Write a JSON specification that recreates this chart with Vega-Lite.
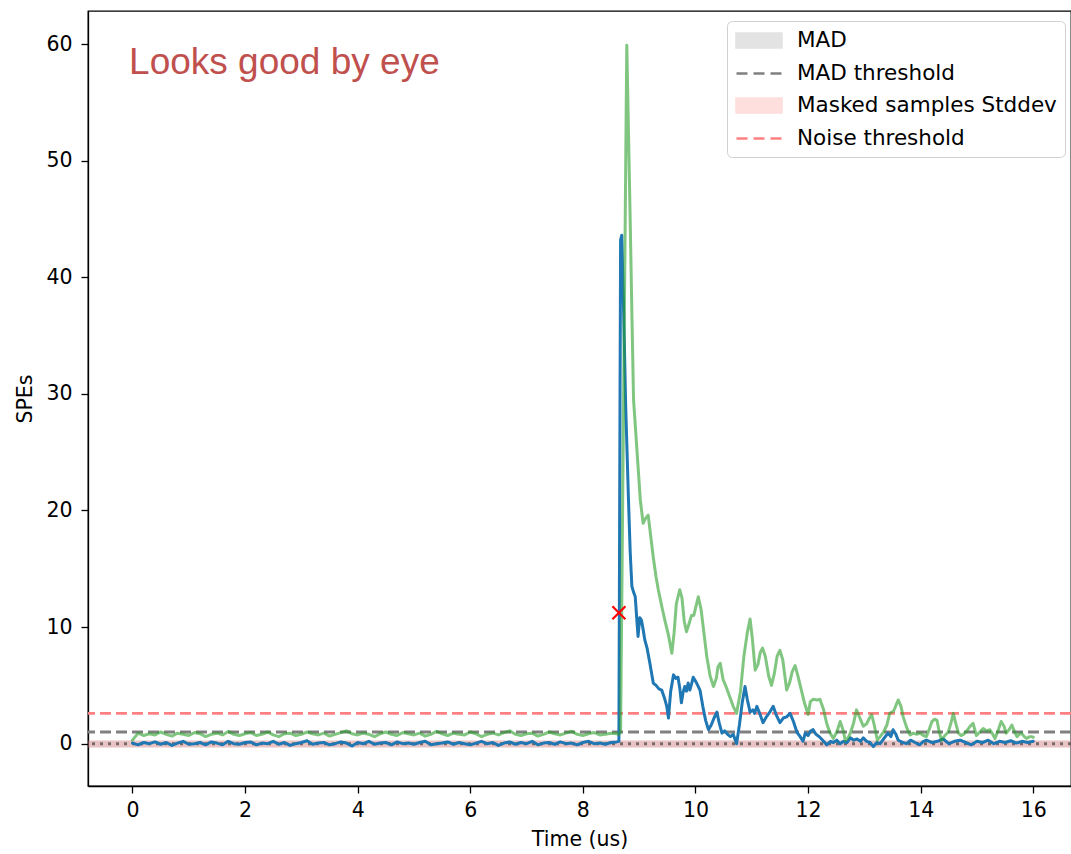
{
  "$schema": "https://vega.github.io/schema/vega-lite/v6.json",
  "autosize": "none",
  "width": 983,
  "height": 775,
  "padding": {"left": 88, "top": 11, "right": 0, "bottom": 68},
  "background": "white",
  "config": {
    "view": {"stroke": "black", "strokeWidth": 1.3},
    "font": "DejaVu Sans",
    "axis": {
      "grid": false,
      "domainColor": "black",
      "domainWidth": 1.3,
      "tickColor": "black",
      "tickWidth": 1.3,
      "tickSize": 7,
      "labelFont": "DejaVu Sans",
      "labelFontSize": 20.5,
      "labelColor": "#000",
      "titleFont": "DejaVu Sans",
      "titleFontSize": 20.5,
      "titleFontWeight": "normal",
      "titleColor": "#000"
    }
  },
  "datasets": {
    "blue": [
      {"t":0.0,"v":0.05},{"t":0.1,"v":-0.1},{"t":0.2,"v":0.1},{"t":0.3,"v":0.0},{"t":0.4,"v":0.15},{"t":0.5,"v":-0.05},{"t":0.6,"v":0.1},{"t":0.7,"v":-0.15},{"t":0.8,"v":0.05},{"t":0.9,"v":0.2},
      {"t":1.0,"v":-0.05},{"t":1.1,"v":0.0},{"t":1.2,"v":0.1},{"t":1.3,"v":-0.1},{"t":1.4,"v":0.15},{"t":1.5,"v":0.05},{"t":1.6,"v":-0.1},{"t":1.7,"v":0.2},{"t":1.8,"v":0.0},{"t":1.9,"v":-0.05},
      {"t":2.0,"v":0.1},{"t":2.1,"v":0.15},{"t":2.2,"v":-0.1},{"t":2.3,"v":0.05},{"t":2.4,"v":0.0},{"t":2.5,"v":0.2},{"t":2.6,"v":-0.05},{"t":2.7,"v":0.1},{"t":2.8,"v":-0.15},{"t":2.9,"v":0.0},
      {"t":3.0,"v":0.1},{"t":3.1,"v":0.25},{"t":3.2,"v":-0.05},{"t":3.3,"v":0.05},{"t":3.4,"v":0.1},{"t":3.5,"v":-0.1},{"t":3.6,"v":0.0},{"t":3.7,"v":0.15},{"t":3.8,"v":0.05},{"t":3.9,"v":-0.2},
      {"t":4.0,"v":0.1},{"t":4.1,"v":0.0},{"t":4.2,"v":0.2},{"t":4.3,"v":-0.05},{"t":4.4,"v":0.05},{"t":4.5,"v":0.1},{"t":4.6,"v":-0.1},{"t":4.7,"v":0.15},{"t":4.8,"v":0.0},{"t":4.9,"v":0.05},
      {"t":5.0,"v":-0.05},{"t":5.1,"v":0.1},{"t":5.2,"v":0.2},{"t":5.3,"v":-0.1},{"t":5.4,"v":0.0},{"t":5.5,"v":0.05},{"t":5.6,"v":0.15},{"t":5.7,"v":-0.05},{"t":5.8,"v":0.1},{"t":5.9,"v":0.0},
      {"t":6.0,"v":-0.1},{"t":6.1,"v":0.05},{"t":6.2,"v":0.2},{"t":6.3,"v":0.0},{"t":6.4,"v":0.1},{"t":6.5,"v":-0.15},{"t":6.6,"v":0.05},{"t":6.7,"v":0.15},{"t":6.8,"v":-0.05},{"t":6.9,"v":0.1},
      {"t":7.0,"v":0.0},{"t":7.1,"v":0.2},{"t":7.2,"v":-0.1},{"t":7.3,"v":0.05},{"t":7.4,"v":0.1},{"t":7.5,"v":-0.05},{"t":7.6,"v":0.15},{"t":7.7,"v":0.0},{"t":7.8,"v":0.05},{"t":7.9,"v":-0.1},
      {"t":8.0,"v":0.1},{"t":8.1,"v":0.2},{"t":8.2,"v":0.0},{"t":8.3,"v":0.05},{"t":8.4,"v":-0.05},{"t":8.5,"v":0.1},{"t":8.6,"v":0.15},
      {"t":8.64,"v":0.2},{"t":8.66,"v":30},{"t":8.67,"v":43.2},{"t":8.69,"v":43.6},{"t":8.72,"v":38},{"t":8.76,"v":29},{"t":8.81,"v":20.9},{"t":8.84,"v":16.5},{"t":8.87,"v":13.5},{"t":8.9,"v":13.0},
      {"t":8.93,"v":12.6},{"t":8.96,"v":10.5},{"t":8.98,"v":9.2},{"t":9.01,"v":10.8},{"t":9.04,"v":10.6},{"t":9.07,"v":9.8},{"t":9.1,"v":8.9},{"t":9.14,"v":8.2},{"t":9.19,"v":6.9},{"t":9.25,"v":5.2},
      {"t":9.3,"v":5.0},{"t":9.35,"v":4.7},{"t":9.4,"v":4.6},{"t":9.45,"v":3.9},{"t":9.49,"v":3.2},{"t":9.52,"v":2.2},{"t":9.56,"v":4.5},{"t":9.61,"v":5.9},{"t":9.65,"v":5.6},{"t":9.69,"v":5.7},
      {"t":9.72,"v":4.8},{"t":9.75,"v":3.5},{"t":9.78,"v":4.4},{"t":9.81,"v":4.9},{"t":9.84,"v":4.5},{"t":9.87,"v":5.2},{"t":9.9,"v":4.6},{"t":9.93,"v":5.1},{"t":9.96,"v":5.7},{"t":10.02,"v":5.2},
      {"t":10.08,"v":4.6},{"t":10.13,"v":3.2},{"t":10.18,"v":2.0},{"t":10.23,"v":1.2},{"t":10.28,"v":1.6},{"t":10.33,"v":2.2},{"t":10.38,"v":2.7},{"t":10.42,"v":1.8},{"t":10.47,"v":0.9},{"t":10.52,"v":1.1},
      {"t":10.57,"v":0.8},{"t":10.62,"v":0.6},{"t":10.67,"v":0.8},{"t":10.73,"v":0.0},{"t":10.78,"v":1.6},{"t":10.83,"v":3.5},{"t":10.88,"v":4.9},{"t":10.92,"v":3.8},{"t":10.97,"v":2.7},{"t":11.02,"v":2.9},
      {"t":11.05,"v":2.6},{"t":11.09,"v":3.2},{"t":11.14,"v":2.6},{"t":11.2,"v":1.8},{"t":11.26,"v":2.3},{"t":11.32,"v":2.7},{"t":11.38,"v":3.2},{"t":11.44,"v":2.4},{"t":11.5,"v":1.8},{"t":11.56,"v":2.2},
      {"t":11.62,"v":2.3},{"t":11.68,"v":2.6},{"t":11.74,"v":1.9},{"t":11.8,"v":1.0},{"t":11.86,"v":0.6},{"t":11.91,"v":0.2},{"t":11.95,"v":0.9},{"t":12.0,"v":0.7},{"t":12.05,"v":1.1},{"t":12.09,"v":1.2},
      {"t":12.14,"v":0.8},{"t":12.2,"v":0.6},{"t":12.26,"v":0.3},{"t":12.33,"v":-0.1},{"t":12.4,"v":0.2},{"t":12.45,"v":0.1},{"t":12.51,"v":0.3},{"t":12.57,"v":0.0},{"t":12.63,"v":0.2},{"t":12.69,"v":0.1},
      {"t":12.75,"v":0.5},{"t":12.81,"v":0.3},{"t":12.87,"v":0.4},{"t":12.93,"v":0.2},{"t":12.98,"v":0.5},{"t":13.04,"v":0.2},{"t":13.1,"v":0.1},{"t":13.16,"v":-0.25},{"t":13.22,"v":0.1},{"t":13.28,"v":0.0},
      {"t":13.34,"v":0.4},{"t":13.42,"v":0.9},{"t":13.47,"v":0.6},{"t":13.51,"v":1.2},{"t":13.56,"v":0.8},{"t":13.6,"v":0.3},{"t":13.68,"v":0.1},{"t":13.75,"v":0.0},{"t":13.82,"v":0.3},{"t":13.9,"v":0.1},
      {"t":13.98,"v":-0.1},{"t":14.05,"v":0.2},{"t":14.1,"v":0.3},{"t":14.2,"v":0.1},{"t":14.3,"v":0.2},{"t":14.4,"v":0.4},{"t":14.5,"v":0.0},{"t":14.6,"v":0.2},{"t":14.7,"v":0.3},{"t":14.8,"v":0.1},
      {"t":14.9,"v":-0.1},{"t":15.0,"v":0.2},{"t":15.1,"v":0.1},{"t":15.2,"v":0.3},{"t":15.3,"v":0.0},{"t":15.4,"v":0.2},{"t":15.5,"v":0.1},{"t":15.6,"v":0.25},{"t":15.7,"v":0.05},{"t":15.8,"v":0.2},
      {"t":15.9,"v":0.1},{"t":16.0,"v":0.2}
    ],
    "green": [
      {"t":0.0,"v":0.3},{"t":0.1,"v":0.9},{"t":0.2,"v":0.7},{"t":0.3,"v":0.85},{"t":0.4,"v":0.75},{"t":0.5,"v":1.0},{"t":0.6,"v":0.8},{"t":0.7,"v":0.65},{"t":0.8,"v":0.9},{"t":0.9,"v":0.8},
      {"t":1.0,"v":0.7},{"t":1.1,"v":0.95},{"t":1.2,"v":0.85},{"t":1.3,"v":0.6},{"t":1.4,"v":0.8},{"t":1.5,"v":0.9},{"t":1.6,"v":0.75},{"t":1.7,"v":1.05},{"t":1.8,"v":0.8},{"t":1.9,"v":0.7},
      {"t":2.0,"v":0.85},{"t":2.1,"v":0.95},{"t":2.2,"v":0.7},{"t":2.3,"v":0.8},{"t":2.4,"v":1.0},{"t":2.5,"v":0.75},{"t":2.6,"v":0.6},{"t":2.7,"v":0.85},{"t":2.8,"v":0.9},{"t":2.9,"v":0.7},
      {"t":3.0,"v":0.8},{"t":3.1,"v":1.0},{"t":3.2,"v":0.85},{"t":3.3,"v":0.75},{"t":3.4,"v":0.9},{"t":3.5,"v":0.65},{"t":3.6,"v":0.8},{"t":3.7,"v":0.95},{"t":3.8,"v":1.1},{"t":3.9,"v":0.85},
      {"t":4.0,"v":0.75},{"t":4.1,"v":0.9},{"t":4.2,"v":0.8},{"t":4.3,"v":0.6},{"t":4.4,"v":0.85},{"t":4.5,"v":1.0},{"t":4.6,"v":0.8},{"t":4.7,"v":0.7},{"t":4.8,"v":0.95},{"t":4.9,"v":0.85},
      {"t":5.0,"v":0.75},{"t":5.1,"v":0.9},{"t":5.2,"v":0.65},{"t":5.3,"v":0.8},{"t":5.4,"v":1.05},{"t":5.5,"v":0.85},{"t":5.6,"v":0.7},{"t":5.7,"v":0.9},{"t":5.8,"v":0.8},{"t":5.9,"v":0.75},
      {"t":6.0,"v":1.0},{"t":6.1,"v":0.85},{"t":6.2,"v":0.6},{"t":6.3,"v":0.8},{"t":6.4,"v":0.9},{"t":6.5,"v":0.75},{"t":6.6,"v":0.95},{"t":6.7,"v":1.1},{"t":6.8,"v":0.8},{"t":6.9,"v":0.7},
      {"t":7.0,"v":0.85},{"t":7.1,"v":0.9},{"t":7.2,"v":0.65},{"t":7.3,"v":0.8},{"t":7.4,"v":1.0},{"t":7.5,"v":0.85},{"t":7.6,"v":0.75},{"t":7.7,"v":0.9},{"t":7.8,"v":1.05},{"t":7.9,"v":0.8},
      {"t":8.0,"v":0.7},{"t":8.1,"v":0.85},{"t":8.2,"v":0.95},{"t":8.3,"v":0.75},{"t":8.4,"v":0.8},{"t":8.5,"v":0.9},{"t":8.6,"v":0.85},
      {"t":8.64,"v":0.8},{"t":8.67,"v":1.0},{"t":8.78,"v":59.9},{"t":8.84,"v":45},{"t":8.87,"v":37},{"t":8.9,"v":29.5},{"t":8.96,"v":25.2},{"t":9.02,"v":20.9},{"t":9.07,"v":18.9},{"t":9.11,"v":19.3},
      {"t":9.16,"v":19.6},{"t":9.2,"v":18.0},{"t":9.25,"v":16.0},{"t":9.3,"v":14.3},{"t":9.34,"v":13.2},{"t":9.4,"v":11.8},{"t":9.46,"v":10.5},{"t":9.52,"v":9.3},{"t":9.58,"v":7.75},{"t":9.62,"v":9.5},
      {"t":9.66,"v":12.0},{"t":9.72,"v":13.2},{"t":9.76,"v":12.5},{"t":9.8,"v":10.5},{"t":9.84,"v":9.6},{"t":9.88,"v":10.2},{"t":9.93,"v":11.0},{"t":9.97,"v":11.0},{"t":10.01,"v":11.8},{"t":10.05,"v":12.6},
      {"t":10.1,"v":11.5},{"t":10.15,"v":9.5},{"t":10.2,"v":7.5},{"t":10.26,"v":5.8},{"t":10.32,"v":4.9},{"t":10.37,"v":5.6},{"t":10.4,"v":6.6},{"t":10.44,"v":6.9},{"t":10.49,"v":5.5},{"t":10.55,"v":4.8},
      {"t":10.61,"v":4.0},{"t":10.67,"v":3.2},{"t":10.73,"v":2.6},{"t":10.8,"v":4.5},{"t":10.86,"v":7.5},{"t":10.92,"v":9.5},{"t":10.97,"v":10.7},{"t":11.01,"v":9.0},{"t":11.06,"v":6.3},{"t":11.11,"v":6.8},
      {"t":11.15,"v":7.8},{"t":11.19,"v":8.2},{"t":11.24,"v":7.5},{"t":11.3,"v":5.8},{"t":11.35,"v":5.0},{"t":11.4,"v":6.0},{"t":11.45,"v":7.5},{"t":11.5,"v":8.0},{"t":11.55,"v":7.2},{"t":11.62,"v":4.6},
      {"t":11.67,"v":5.2},{"t":11.72,"v":6.2},{"t":11.77,"v":6.7},{"t":11.82,"v":5.8},{"t":11.86,"v":5.0},{"t":11.93,"v":3.6},{"t":12.0,"v":2.5},{"t":12.04,"v":3.6},{"t":12.09,"v":3.8},{"t":12.16,"v":3.75},
      {"t":12.21,"v":3.8},{"t":12.27,"v":3.0},{"t":12.33,"v":1.75},{"t":12.39,"v":0.9},{"t":12.45,"v":0.45},{"t":12.51,"v":1.0},{"t":12.57,"v":1.9},{"t":12.62,"v":1.2},{"t":12.66,"v":0.3},{"t":12.71,"v":0.5},
      {"t":12.75,"v":0.9},{"t":12.81,"v":1.8},{"t":12.86,"v":2.9},{"t":12.92,"v":2.2},{"t":12.98,"v":1.5},{"t":13.04,"v":1.7},{"t":13.09,"v":2.2},{"t":13.13,"v":2.5},{"t":13.18,"v":1.5},{"t":13.23,"v":0.3},
      {"t":13.28,"v":0.6},{"t":13.34,"v":1.0},{"t":13.4,"v":1.6},{"t":13.45,"v":2.6},{"t":13.52,"v":2.8},{"t":13.6,"v":3.75},{"t":13.65,"v":3.2},{"t":13.69,"v":2.3},{"t":13.75,"v":1.4},{"t":13.81,"v":0.75},
      {"t":13.87,"v":0.9},{"t":13.93,"v":0.8},{"t":13.99,"v":0.9},{"t":14.05,"v":0.7},{"t":14.1,"v":0.6},{"t":14.15,"v":1.2},{"t":14.2,"v":1.9},{"t":14.25,"v":2.1},{"t":14.29,"v":2.0},{"t":14.33,"v":1.0},
      {"t":14.37,"v":0.3},{"t":14.43,"v":0.7},{"t":14.49,"v":1.0},{"t":14.54,"v":1.8},{"t":14.58,"v":2.6},{"t":14.62,"v":1.8},{"t":14.67,"v":0.9},{"t":14.72,"v":0.7},{"t":14.76,"v":0.8},{"t":14.82,"v":1.1},
      {"t":14.88,"v":1.5},{"t":14.93,"v":1.75},{"t":14.99,"v":0.7},{"t":15.05,"v":1.0},{"t":15.11,"v":1.3},{"t":15.17,"v":1.1},{"t":15.23,"v":1.2},{"t":15.28,"v":0.8},{"t":15.32,"v":0.45},{"t":15.38,"v":1.2},
      {"t":15.43,"v":1.9},{"t":15.48,"v":1.5},{"t":15.52,"v":0.9},{"t":15.57,"v":1.2},{"t":15.62,"v":1.6},{"t":15.67,"v":1.0},{"t":15.71,"v":0.6},{"t":15.75,"v":0.8},{"t":15.79,"v":0.9},{"t":15.84,"v":0.6},
      {"t":15.88,"v":0.45},{"t":15.93,"v":0.6},{"t":15.97,"v":0.6},{"t":16.0,"v":0.55}
    ],
    "bands": [
      {"label": "MAD", "lo": -0.33, "hi": 0.27},
      {"label": "Masked samples Stddev", "lo": -0.33, "hi": 0.27}
    ],
    "thresholds": [
      {"label": "MAD threshold", "v": 1.0},
      {"label": "Noise threshold", "v": 2.6}
    ],
    "entries": [
      {"label": "MAD"},
      {"label": "MAD threshold"},
      {"label": "Masked samples Stddev"},
      {"label": "Noise threshold"}
    ],
    "zero": [{"v": 0}],
    "marker": [{"t": 8.64, "v": 11.23}],
    "note": [{"t": -0.06, "v": 57.46, "txt": "Looks good by eye"}]
  },
  "layer": [
    {
      "data": {"name": "bands"},
      "mark": {"type": "rect", "opacity": 0.25},
      "encoding": {
        "y": {"field": "lo", "type": "quantitative", "scale": {"domain": [-3.63, 62.83], "nice": false, "zero": false}, "axis": {"values": [0, 10, 20, 30, 40, 50, 60], "title": "SPEs", "labelPadding": 9, "titlePadding": 10}},
        "y2": {"field": "hi"},
        "color": {
          "field": "label", "type": "nominal", "legend": null,
          "scale": {"domain": ["MAD", "Masked samples Stddev", "MAD threshold", "Noise threshold"], "range": ["#909090", "#ff6666", "#808080", "#ff8080"]}
        }
      }
    },
    {
      "data": {"name": "zero"},
      "mark": {"type": "rule", "color": "#444444", "strokeWidth": 3, "strokeDash": [3, 5], "opacity": 0.7},
      "encoding": {"y": {"field": "v", "type": "quantitative"}}
    },
    {
      "data": {"name": "thresholds"},
      "mark": {"type": "rule", "strokeWidth": 2.8, "strokeDash": [11, 5]},
      "encoding": {
        "y": {"field": "v", "type": "quantitative"},
        "color": {"field": "label", "type": "nominal", "legend": null}
      }
    },
    {
      "data": {"name": "entries"},
      "mark": {"type": "point", "size": 0, "strokeWidth": 2.6, "filled": true, "opacity": 1},
      "encoding": {
        "fill": {
          "field": "label", "type": "nominal",
          "scale": {"domain": ["MAD", "MAD threshold", "Masked samples Stddev", "Noise threshold"], "range": ["#e3e3e3", "transparent", "#ffdede", "transparent"]},
          "legend": {"title": null, "orient": "none", "legendX": 639, "legendY": 10, "padding": 8, "fillColor": "white", "strokeColor": "#d0d0d0", "cornerRadius": 5, "labelFont": "DejaVu Sans", "labelFontSize": 21.5, "labelColor": "#000", "labelLimit": 500, "labelOffset": 39, "rowPadding": 9, "symbolSize": 400, "symbolStrokeWidth": 2.6, "symbolOpacity": 1}
        },
        "stroke": {
          "field": "label", "type": "nominal",
          "scale": {"domain": ["MAD", "MAD threshold", "Masked samples Stddev", "Noise threshold"], "range": ["#e3e3e3", "#808080", "#ffdede", "#ff8080"]},
          "legend": {"title": null, "orient": "none", "legendX": 639, "legendY": 10, "padding": 8, "fillColor": "white", "strokeColor": "#d0d0d0", "cornerRadius": 5, "labelFont": "DejaVu Sans", "labelFontSize": 21.5, "labelColor": "#000", "labelLimit": 500, "labelOffset": 39, "rowPadding": 9, "symbolSize": 400, "symbolStrokeWidth": 2.6, "symbolOpacity": 1}
        },
        "shape": {
          "field": "label", "type": "nominal",
          "scale": {"domain": ["MAD", "MAD threshold", "Masked samples Stddev", "Noise threshold"], "range": ["M-1,-0.7H3.5V0.7H-1Z", "M-1,0H0.1M0.7,0H1.8M2.4,0H3.5", "M-1,-0.7H3.5V0.7H-1Z", "M-1,0H0.1M0.7,0H1.8M2.4,0H3.5"]},
          "legend": {"title": null, "orient": "none", "legendX": 639, "legendY": 10, "padding": 8, "fillColor": "white", "strokeColor": "#d0d0d0", "cornerRadius": 5, "labelFont": "DejaVu Sans", "labelFontSize": 21.5, "labelColor": "#000", "labelLimit": 500, "labelOffset": 39, "rowPadding": 9, "symbolSize": 400, "symbolStrokeWidth": 2.6, "symbolOpacity": 1}
        }
      }
    },
    {
      "data": {"name": "blue"},
      "mark": {"type": "line", "color": "#1f77b4", "strokeWidth": 3, "strokeJoin": "round", "strokeCap": "round"},
      "encoding": {
        "x": {"field": "t", "type": "quantitative", "scale": {"domain": [-0.79, 16.67], "nice": false, "zero": false}, "axis": {"values": [0, 2, 4, 6, 8, 10, 12, 14, 16], "format": "d", "title": "Time (us)", "labelPadding": 7, "titlePadding": 9}},
        "y": {"field": "v", "type": "quantitative"}
      }
    },
    {
      "data": {"name": "green"},
      "mark": {"type": "line", "color": "#2ca02c", "opacity": 0.6, "strokeWidth": 3, "strokeJoin": "round", "strokeCap": "round"},
      "encoding": {
        "x": {"field": "t", "type": "quantitative"},
        "y": {"field": "v", "type": "quantitative"}
      }
    },
    {
      "data": {"name": "marker"},
      "mark": {"type": "point", "shape": "M-1,-1L1,1M-1,1L1,-1", "size": 169, "filled": false, "stroke": "#ff0000", "strokeWidth": 2.2, "opacity": 1},
      "encoding": {
        "x": {"field": "t", "type": "quantitative"},
        "y": {"field": "v", "type": "quantitative"}
      }
    },
    {
      "data": {"name": "note"},
      "mark": {"type": "text", "align": "left", "baseline": "alphabetic", "font": "Liberation Sans", "fontSize": 37, "color": "#c0504d"},
      "encoding": {
        "x": {"field": "t", "type": "quantitative"},
        "y": {"field": "v", "type": "quantitative"},
        "text": {"field": "txt"}
      }
    }
  ]
}
